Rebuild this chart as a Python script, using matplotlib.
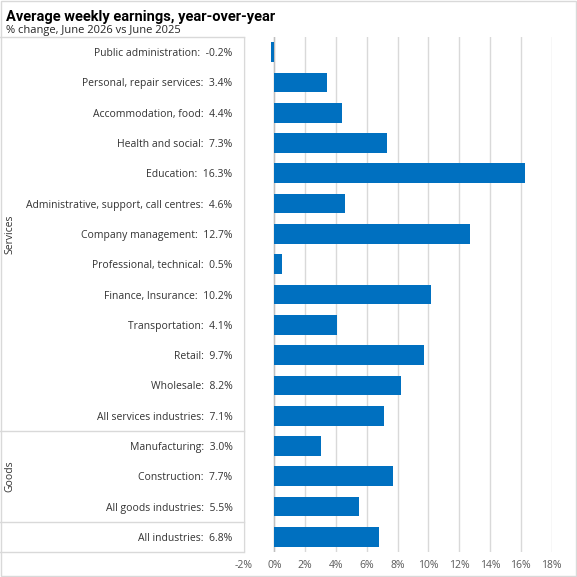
import matplotlib
matplotlib.use("Agg")
import matplotlib.pyplot as plt
from matplotlib.transforms import blended_transform_factory
from matplotlib.patches import Rectangle

# data
industries = ["Public administration", "Personal, repair services", "Accommodation, food",
              "Health and social", "Education", "Administrative, support, call centres",
              "Company management", "Professional, technical", "Finance, Insurance",
              "Transportation", "Retail", "Wholesale", "All services industries",
              "Manufacturing", "Construction", "All goods industries", "All industries"]
changes = [-0.2, 3.4, 4.4, 7.3, 16.3, 4.6, 12.7, 0.5, 10.2, 4.1, 9.7, 8.2, 7.1,
           3.0, 7.7, 5.5, 6.8]
groups = ["Services", "Goods"]
group_rows = [(0, 12), (13, 15)]
x_ticks = [-2, 0, 2, 4, 6, 8, 10, 12, 14, 16, 18]

plt.rcParams['font.family'] = ['Open Sans', 'DejaVu Sans']

W = 577
fig = plt.figure(figsize=(5.77, 5.77), dpi=100)
ax = fig.add_axes([243.5 / W, 25 / W, 308 / W, 515 / W])

labels = [f"{n}:  {v:.1f}%" for n, v in zip(industries, changes)]
ypos = list(range(len(industries)))
ax.barh(ypos, changes, height=0.65, color="#0070C0", zorder=3)

ax.set_xlim(-2, 18)
ax.set_ylim(len(industries) - 0.5, -0.5)
ax.set_xticks(x_ticks)
ax.set_xticklabels([f"{t}%" for t in x_ticks], fontsize=7.5, color="#595959")
ax.set_yticks(ypos)
ax.set_yticklabels(labels, fontsize=7.5, color="#333333")
ax.tick_params(axis="both", length=0)
ax.tick_params(axis="y", pad=8)
ax.tick_params(axis="x", pad=6)
ax.grid(axis="x", color="#D9D9D9", linewidth=1, zorder=0)
ax.axvline(0, color="#BFBFBF", linewidth=1, zorder=2)
for s in ["top", "right", "bottom"]:
    ax.spines[s].set_visible(False)
ax.spines["left"].set_color("#D9D9D9")

# category box on the left
tr = blended_transform_factory(fig.transFigure, ax.transData)
x_edge = 243.5 / W
for yb in [-0.5, 12.5, 15.5, 16.5]:
    ax.plot([0, x_edge], [yb, yb], transform=tr, color="#D9D9D9", lw=1, clip_on=False)
for g, (a, b) in zip(groups, group_rows):
    ax.text(10 / W, (a + b) / 2, g, transform=tr, rotation=90, ha="center", va="center",
            fontsize=7.5, color="#333333")

# titles and outer border
fig.text(6 / W, 1 - 17 / W, "Average weekly earnings, year-over-year", fontsize=10.5,
         fontweight="bold", family=["Roboto", "DejaVu Sans"], color="#000000", va="center")
fig.text(6 / W, 1 - 31 / W, "% change, June 2026 vs June 2025", fontsize=8,
         color="#262626", va="center")
fig.patches.append(Rectangle((0.001, 0.001), 0.998, 0.998, transform=fig.transFigure,
                             fill=False, edgecolor="#D9D9D9", lw=1))

fig.savefig("out.png", dpi=100)
